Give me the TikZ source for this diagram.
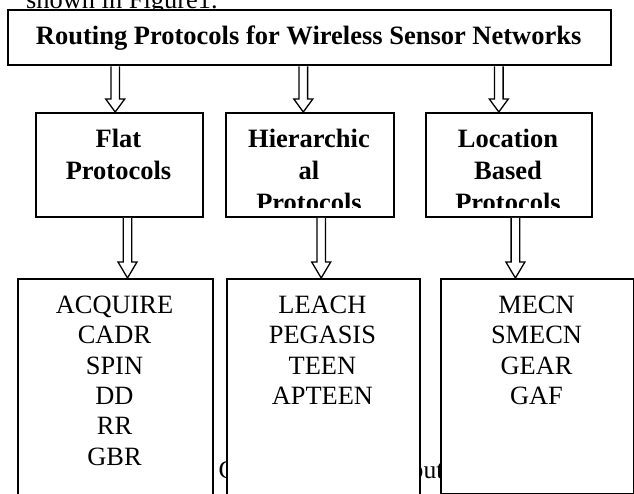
\documentclass[tikz,border=0pt]{standalone}
\usepackage{fontspec}
\setmainfont{Liberation Serif}
\usetikzlibrary{calc}
\tikzset{
  boxframe/.style={draw=black, line width=2pt, fill=white, inner sep=0pt, rectangle, anchor=north west},
  headtxt/.style={font=\fontsize{26.5}{32}\selectfont\bfseries, inner sep=0pt, anchor=base},
  listtxt/.style={font=\fontsize{26.4}{30}\selectfont, inner sep=0pt, anchor=base},
  plaintxt/.style={font=\fontsize{26.4}{30}\selectfont, inner sep=0pt, anchor=base west},
  arrline/.style={draw=black, line width=1.3pt, fill=white, line join=miter},
}
\newcommand\blockarrow[4]{% x, from node, to node, head length
  \draw[arrline] let \p1=(#2.south), \p2=(#3.north) in
   (#1pt-4.3pt,\y1) -- (#1pt-4.3pt,\y2+#4pt) -- (#1pt-9.5pt,\y2+#4pt) -- (#1pt,\y2)
   -- (#1pt+9.5pt,\y2+#4pt) -- (#1pt+4.3pt,\y2+#4pt) -- (#1pt+4.3pt,\y1);
}
\begin{document}
\begin{tikzpicture}[x=1pt,y=1pt]
  \useasboundingbox (0,0) rectangle (634,-494);
  \clip (0,0) rectangle (634,-494);
  \fill[white] (0,0) rectangle (634,-494);

  % text fragments behind the boxes
  \node[plaintxt] (above) at (26,-8.5) {shown in Figure1.};
  \node[plaintxt, font=\fontsize{25.6}{30}\selectfont] (caption) at (218.5,-478) {Classification of Routing Protocols};

  % top box
  \node[boxframe, minimum width=602.7pt, minimum height=55pt] (top) at (7.3,-9.3) {};
  \node[headtxt] (title) at (308.7,-45) {Routing Protocols for Wireless Sensor Networks};

  % middle boxes
  \node[boxframe, minimum width=167pt, minimum height=104pt] (flat) at (35,-112) {};
  \node[boxframe, minimum width=168pt, minimum height=104pt] (hier) at (225,-112) {};
  \node[boxframe, minimum width=166pt, minimum height=104pt] (loc) at (425,-112) {};

  \node[headtxt] (flat1) at (118.5,-148) {Flat};
  \node[headtxt] (flat2) at (118.5,-180) {Protocols};
  \begin{scope}
    \clip ($(hier.north west)+(1,-1)$) rectangle ($(hier.south east)+(-1,10)$);
    \node[headtxt] (hier1) at (309,-148) {Hierarchic};
    \node[headtxt] (hier2) at (309,-180) {al};
    \node[headtxt] (hier3) at (309,-212) {Protocols};
  \end{scope}
  \begin{scope}
    \clip ($(loc.north west)+(1,-1)$) rectangle ($(loc.south east)+(-1,10)$);
    \node[headtxt] (loc1) at (508,-148) {Location};
    \node[headtxt] (loc2) at (508,-180) {Based};
    \node[headtxt] (loc3) at (508,-212) {Protocols};
  \end{scope}

  % bottom boxes
  \node[boxframe, minimum width=194.4pt, minimum height=240pt] (flatlist) at (17.3,-278) {};
  \node[boxframe, minimum width=193.3pt, minimum height=240pt] (hierlist) at (225.7,-278) {};
  \node[boxframe, minimum width=193pt, minimum height=214.7pt] (loclist) at (440,-278) {};

  \foreach \t [count=\i] in {ACQUIRE,CADR,SPIN,DD,RR,GBR}
    \node[listtxt] (fl\i) at (114.5,{-313.3-30.4*(\i-1)}) {\t};
  \foreach \t [count=\i] in {LEACH,PEGASIS,TEEN,APTEEN}
    \node[listtxt] (hl\i) at (322.4,{-313.3-30.4*(\i-1)}) {\t};
  \foreach \t [count=\i] in {MECN,SMECN,GEAR,GAF}
    \node[listtxt] (ll\i) at (536.5,{-313.3-30.4*(\i-1)}) {\t};

  % arrows
  \blockarrow{115.2}{top}{flat}{13}
  \blockarrow{303.3}{top}{hier}{13}
  \blockarrow{498.8}{top}{loc}{13}
  \blockarrow{127.5}{flat}{flatlist}{16}
  \blockarrow{321.2}{hier}{hierlist}{16}
  \blockarrow{515.4}{loc}{loclist}{16}
\end{tikzpicture}
\end{document}
